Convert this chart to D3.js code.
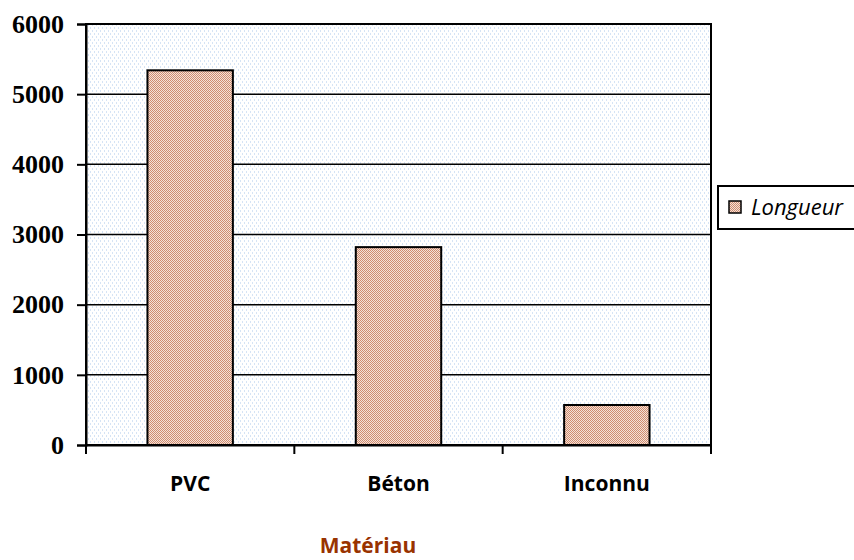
<!DOCTYPE html>
<html><head><meta charset="utf-8">
<script src="https://cdn.jsdelivr.net/npm/d3@7"></script>
<style>body{margin:0;background:#fff;}svg{display:block;}</style>
</head><body>
<script>
const categories = ["PVC", "Béton", "Inconnu"];
const longueur = [5340, 2820, 570];
const yTicks = [0, 1000, 2000, 3000, 4000, 5000, 6000];
const seriesName = "Longueur";
const axisTitle = "Matériau";

const W = 854, H = 560;
const m = {left: 86, right: 711, top: 24, bottom: 445};
const svg = d3.select("body").append("svg").attr("width", W).attr("height", H);
const defs = svg.append("defs");
const bg = defs.append("pattern").attr("id","bgp").attr("patternUnits","userSpaceOnUse").attr("width",4).attr("height",6);
bg.append("rect").attr("width",4).attr("height",6).attr("fill","#fff");
bg.append("rect").attr("x",0).attr("y",0).attr("width",1).attr("height",2).attr("fill","#d6e4f5");
bg.append("rect").attr("x",2).attr("y",3).attr("width",1).attr("height",2).attr("fill","#d6e4f5");
const bp = defs.append("pattern").attr("id","barp").attr("patternUnits","userSpaceOnUse").attr("width",2).attr("height",2);
bp.append("rect").attr("width",2).attr("height",2).attr("fill","#f4e2d8");
bp.append("rect").attr("x",0).attr("y",0).attr("width",1).attr("height",1).attr("fill","#cf8c70");
bp.append("rect").attr("x",1).attr("y",1).attr("width",1).attr("height",1).attr("fill","#cf8c70");

const x = d3.scaleBand().domain(categories).range([m.left, m.right]).paddingInner(0.59).paddingOuter(0.295);
const xb = d3.scaleBand().domain(categories).range([m.left, m.right]);
const y = d3.scaleLinear().domain([0, 6000]).range([m.bottom, m.top]);

svg.append("rect").attr("x", m.left).attr("y", m.top).attr("width", m.right-m.left).attr("height", m.bottom-m.top).attr("fill","url(#bgp)");

// gridlines
svg.append("g").selectAll("line").data(yTicks.slice(1,-1)).join("line")
  .attr("x1", m.left).attr("x2", m.right).attr("y1", d=>y(d)).attr("y2", d=>y(d))
  .attr("stroke","#000").attr("stroke-width",1.5);

// bars
svg.append("g").selectAll("rect").data(longueur).join("rect")
  .attr("x",(d,i)=>x(categories[i])).attr("width",x.bandwidth())
  .attr("y",d=>y(d)).attr("height",d=>y(0)-y(d))
  .attr("fill","url(#barp)").attr("stroke","#000").attr("stroke-width",2);

// plot border
svg.append("rect").attr("x", m.left).attr("y", m.top).attr("width", m.right-m.left).attr("height", m.bottom-m.top)
  .attr("fill","none").attr("stroke","#000").attr("stroke-width",2);

// y axis
const ya = svg.append("g").attr("transform",`translate(${m.left},0)`)
  .call(d3.axisLeft(y).tickValues(yTicks).tickFormat(d3.format("d")).tickSize(9).tickPadding(13));
ya.select(".domain").attr("stroke-width",2);
ya.selectAll(".tick line").attr("stroke-width",2);
ya.selectAll("text").style("font-family","'Liberation Serif', serif").style("font-weight","bold").style("font-size","26px").attr("fill","#000");

// x axis
const xa = svg.append("g").attr("transform",`translate(0,${m.bottom})`)
  .call(d3.axisBottom(xb).tickSize(0).tickPadding(31));
xa.select(".domain").attr("stroke-width",2);
xa.selectAll("text").style("font-family","'Open Sans', sans-serif").style("font-weight","bold").style("font-size","21px").attr("fill","#000");
const bounds = categories.map(c=>xb(c)).concat([m.right]);
svg.append("g").selectAll("line").data(bounds).join("line")
  .attr("x1",d=>d).attr("x2",d=>d).attr("y1",m.bottom).attr("y2",m.bottom+9)
  .attr("stroke","#000").attr("stroke-width",2);

// axis title
svg.append("text").attr("x",368).attr("y",553).attr("text-anchor","middle")
  .style("font-family","'Open Sans', sans-serif").style("font-weight","bold").style("font-size","21px").attr("fill","#993300").text(axisTitle);

// legend
const lg = svg.append("g");
lg.append("rect").attr("x",718).attr("y",186).attr("width",140).attr("height",43).attr("fill","#fff").attr("stroke","#000").attr("stroke-width",2);
lg.append("rect").attr("x",729).attr("y",201).attr("width",12).attr("height",12).attr("fill","url(#barp)").attr("stroke","#000").attr("stroke-width",1.5);
lg.append("text").attr("x",751).attr("y",215).style("font-family","'Open Sans', sans-serif").style("font-style","italic").style("font-size","22px").attr("fill","#000").text(seriesName);
</script>
</body></html>
